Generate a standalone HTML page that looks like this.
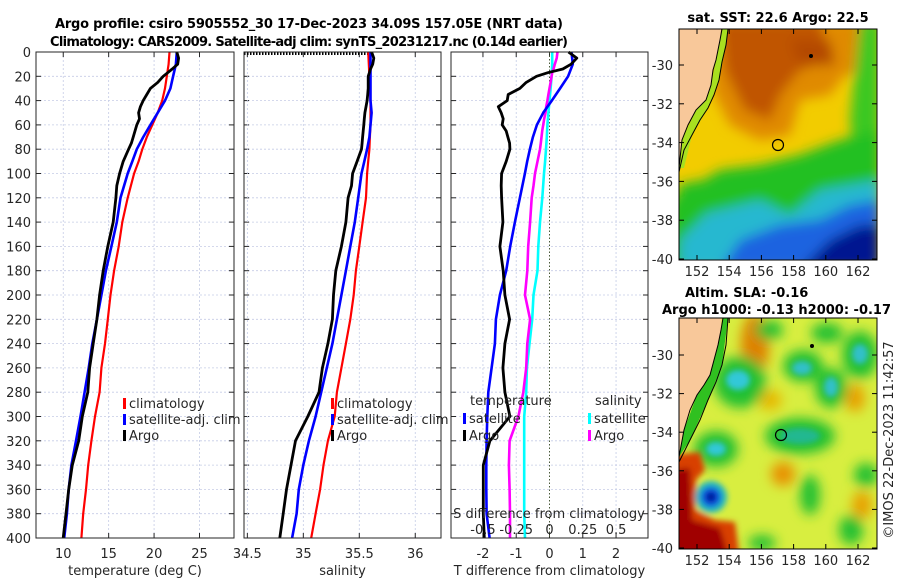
<!DOCTYPE html>
<html><head><meta charset="utf-8">
<style>
html,body{margin:0;padding:0;background:#fff;}
svg{display:block;font-family:"DejaVu Sans","Liberation Sans",sans-serif;}
</style></head>
<body>
<svg id="fig" width="900" height="580" viewBox="0 0 900 580" xmlns="http://www.w3.org/2000/svg">
<defs>
<filter id="bl" x="-20%" y="-20%" width="140%" height="140%"><feGaussianBlur stdDeviation="6"/></filter>
<filter id="bl2" x="-20%" y="-20%" width="140%" height="140%"><feGaussianBlur stdDeviation="3"/></filter>
<clipPath id="m1"><rect x="679" y="29" width="198" height="231"/></clipPath>
<clipPath id="m2"><rect x="679" y="318" width="198" height="231"/></clipPath>
</defs>
<text x="309" y="28" text-anchor="middle" font-size="13" font-weight="bold" fill="#000" textLength="508">Argo profile: csiro 5905552_30 17-Dec-2023 34.09S 157.05E (NRT data)</text>
<text x="309" y="46" text-anchor="middle" font-size="13" font-weight="bold" fill="#000" textLength="518">Climatology: CARS2009. Satellite-adj clim: synTS_20231217.nc (0.14d earlier)</text>
<g id="panels"></g>

<!-- SST map -->
<g>
<text x="778" y="22" text-anchor="middle" font-size="13" font-weight="bold">sat. SST: 22.6 Argo: 22.5</text>
<g clip-path="url(#m1)">
<rect x="679" y="29" width="198" height="231" fill="#f2cc00"/>
<g filter="url(#bl)">
<path d="M715,20 L880,20 L880,70 L845,75 L830,95 L800,100 L790,135 L760,140 L730,125 L712,90Z" fill="#e08a00"/>
<path d="M720,20 L820,20 L830,60 L800,70 L780,95 L770,120 L745,110 L725,70Z" fill="#c05400"/>
<path d="M790,40 L830,40 L835,65 L800,65Z" fill="#b44800"/>
<path d="M860,20 L880,20 L880,200 L855,170 L850,120Z" fill="#3ac820"/>
<path d="M670,200 L720,170 L760,165 L800,155 L840,140 L880,130 L880,270 L670,270Z" fill="#22c020"/>
<path d="M680,240 L700,215 L740,205 L760,200 L790,215 L820,190 L850,185 L880,180 L880,270 L680,270Z" fill="#28b8d0"/>
<path d="M720,270 L740,240 L780,225 L820,220 L850,205 L880,200 L880,270Z" fill="#1a64e0"/>
<path d="M800,270 L830,240 L860,225 L880,225 L880,270Z" fill="#001690"/>
<path d="M678,185 L700,180 L705,215 L680,240Z" fill="#22c020"/>
</g>
<path d="M722,29 L716,60 L711,85 L696,110 L682,140 L679,168 L684,168 L692,135 L708,108 L719,80 L726,45 L728,29Z" fill="#a8e020"/>
<path d="M660,20 L722,20 L720,40 L716,60 L713,70 L711,85 L706,100 L696,110 L688,125 L682,140 L679,168 L660,168Z" fill="#f8c89a"/>
<path d="M722,29 L720,40 L716,60 L713,70 L711,85 L706,100 L696,110 L688,125 L682,140 L679,168" fill="none" stroke="#000" stroke-width="1"/>
<path d="M728,29 L726,45 L722,62 L719,80 L714,95 L708,108 L700,120 L692,135 L684,150 L679,172" fill="none" stroke="#000" stroke-width="1"/>
<circle cx="811" cy="56" r="2" fill="#000"/>
<circle cx="778" cy="145" r="5.5" fill="none" stroke="#000" stroke-width="1.2"/>
</g>
<rect x="679" y="29" width="198" height="231" fill="none" stroke="#000" stroke-width="1"/>
</g>

<!-- SLA map -->
<g>
<text x="685" y="297" font-size="13" font-weight="bold">Altim. SLA: -0.16</text>
<text x="662" y="314" font-size="13" font-weight="bold">Argo h1000: -0.13 h2000: -0.17</text>
<g clip-path="url(#m2)">
<rect x="679" y="318" width="198" height="231" fill="#d8ee40"/>
<g filter="url(#bl)">
<ellipse cx="755" cy="345" rx="14" ry="32" fill="#e08000"/>
<ellipse cx="783" cy="474" rx="12" ry="12" fill="#e89000"/>
<ellipse cx="855" cy="398" rx="10" ry="14" fill="#e8a000"/>
<ellipse cx="862" cy="505" rx="10" ry="14" fill="#e8a000"/>
<ellipse cx="770" cy="400" rx="12" ry="10" fill="#e8b800"/>
<ellipse cx="740" cy="382" rx="26" ry="26" fill="#22c030"/>
<ellipse cx="803" cy="366" rx="20" ry="16" fill="#22c030"/>
<ellipse cx="831" cy="388" rx="16" ry="20" fill="#22c030"/>
<ellipse cx="860" cy="355" rx="18" ry="24" fill="#22c030"/>
<ellipse cx="800" cy="436" rx="35" ry="18" fill="#22c030"/>
<ellipse cx="716" cy="449" rx="22" ry="18" fill="#22c030"/>
<ellipse cx="769" cy="330" rx="14" ry="10" fill="#22c030"/>
<ellipse cx="827" cy="333" rx="16" ry="10" fill="#22c030"/>
<ellipse cx="810" cy="495" rx="10" ry="20" fill="#22c030"/>
<ellipse cx="866" cy="475" rx="12" ry="12" fill="#22c030"/>
<ellipse cx="851" cy="530" rx="12" ry="15" fill="#22c030"/>
<ellipse cx="762" cy="543" rx="14" ry="8" fill="#22c030"/>
</g>
<g filter="url(#bl2)">
<ellipse cx="738" cy="380" rx="12" ry="10" fill="#30c8d8"/>
<ellipse cx="802" cy="368" rx="10" ry="7" fill="#30c0c8"/>
<ellipse cx="831" cy="387" rx="7" ry="10" fill="#30c0c8"/>
<ellipse cx="860" cy="354" rx="8" ry="10" fill="#30c0c8"/>
<ellipse cx="716" cy="449" rx="10" ry="7" fill="#30c8d8"/>
<ellipse cx="800" cy="436" rx="20" ry="8" fill="#20b890"/>
<path d="M670,455 L700,452 L705,470 L696,480 L695,510 L715,520 L735,522 L740,560 L670,560Z" fill="#d84000"/>
<path d="M670,470 L690,468 L692,520 L720,528 L730,560 L670,560Z" fill="#a00000"/>
<circle cx="711" cy="497" r="16" fill="#20b8c0"/>
<circle cx="711" cy="497" r="10" fill="#1050e0"/>
<circle cx="711" cy="497" r="5" fill="#000a90"/>
</g>
<path d="M723,318 L718,345 L710,375 L697,395 L684,430 L679,457 L690,440 L708,400 L722,365 L728,318Z" fill="#30c020"/>
<path d="M660,300 L722,300 L721,330 L718,345 L714,360 L710,375 L704,385 L697,395 L690,410 L684,430 L679,457 L660,460Z" fill="#f8c89a"/>
<path d="M679,457 L684,430 L690,410 L697,395 L704,385 L710,375 L714,360 L718,345 L721,330 L723,318" fill="none" stroke="#000" stroke-width="1"/>
<path d="M679,462 L690,440 L700,420 L708,400 L716,382 L722,365 L726,345 L728,318" fill="none" stroke="#000" stroke-width="1"/>
<circle cx="812" cy="346" r="2" fill="#000"/>
<circle cx="781" cy="435" r="5.5" fill="none" stroke="#000" stroke-width="1.2"/>
</g>
<rect x="679" y="318" width="198" height="231" fill="none" stroke="#000" stroke-width="1"/>
</g>
<g id="mapticks"></g>
<text transform="translate(893,440) rotate(-90)" text-anchor="middle" font-size="13" fill="#262626">©IMOS 22-Dec-2023 11:42:57</text>
</svg>
<script>
const depthsCommon = [0,10,20,30,40,50,60,70,80,90,100,120,140,160,180,200,220,240,260,280,300,320,340,360,380,400];
const depthsArgo = [0,5,10,14,17,20,25,30,35,40,45,50,55,60,65,70,75,80,90,100,110,120,140,160,180,200,220,240,260,280,300,320,340,360,380,400];
const tempClim = [21.7,21.6,21.4,21.2,20.9,20.4,19.8,19.2,18.7,18.3,17.8,17.1,16.5,16.1,15.6,15.2,14.9,14.6,14.2,14.0,13.5,13.1,12.75,12.5,12.2,12.0];
const tempSat = [22.5,22.4,22.1,21.8,21.2,20.4,19.6,18.8,18.1,17.6,17.1,16.3,15.9,15.3,14.7,14.2,13.7,13.2,12.8,12.35,11.9,11.4,10.9,10.6,10.4,10.1];
const tempArgo = [22.5,22.7,22.6,22.0,21.5,21.0,20.4,19.6,19.2,18.8,18.5,18.3,18.4,18.1,17.9,17.7,17.5,17.2,16.6,16.2,15.9,15.8,15.5,14.9,14.4,14.0,13.7,13.3,12.9,12.7,12.1,11.7,11.0,10.6,10.3,10.0];
const salClim = [35.58,35.585,35.59,35.595,35.6,35.6,35.6,35.595,35.59,35.58,35.57,35.56,35.53,35.5,35.47,35.45,35.42,35.38,35.34,35.30,35.28,35.22,35.18,35.15,35.11,35.07];
const salSat = [35.6,35.6,35.6,35.6,35.6,35.61,35.6,35.59,35.57,35.545,35.52,35.49,35.46,35.42,35.38,35.34,35.30,35.26,35.21,35.16,35.11,35.05,35.0,34.96,34.94,34.9];
const salArgo = [35.61,35.63,35.62,35.6,35.59,35.58,35.58,35.58,35.575,35.57,35.56,35.55,35.545,35.54,35.535,35.53,35.525,35.52,35.48,35.44,35.43,35.4,35.38,35.34,35.29,35.27,35.26,35.22,35.17,35.14,35.04,34.93,34.89,34.85,34.82,34.79];
const tDiffSat = [0.66,0.7,0.56,0.32,0.07,-0.19,-0.38,-0.5,-0.59,-0.67,-0.74,-0.89,-1.04,-1.18,-1.3,-1.49,-1.61,-1.64,-1.74,-1.84,-1.87,-1.89,-1.9,-1.9,-1.89,-1.8];
const tDiffArgo = [0.57,0.82,0.65,0.4,-0.05,-0.39,-0.7,-0.89,-1.24,-1.27,-1.54,-1.45,-1.39,-1.42,-1.3,-1.25,-1.2,-1.19,-1.3,-1.44,-1.45,-1.44,-1.4,-1.49,-1.39,-1.34,-1.2,-1.34,-1.4,-1.34,-1.19,-1.79,-1.99,-1.99,-1.99,-1.96];
const sDiffSat = [0.02,0.02,0.016,0.008,0,-0.008,-0.016,-0.02,-0.026,-0.033,-0.041,-0.054,-0.071,-0.084,-0.09,-0.12,-0.13,-0.15,-0.17,-0.175,-0.19,-0.19,-0.19,-0.19,-0.19,-0.184];
const sDiffArgo = [0.06,0.054,0.04,0.03,0.02,0.016,0.008,0,-0.008,-0.016,-0.025,-0.03,-0.04,-0.047,-0.055,-0.06,-0.065,-0.071,-0.09,-0.109,-0.12,-0.134,-0.146,-0.16,-0.167,-0.184,-0.146,-0.167,-0.175,-0.197,-0.234,-0.3,-0.305,-0.3,-0.297,-0.297];
const depthTicks = [0,20,40,60,80,100,120,140,160,180,200,220,240,260,280,300,320,340,360,380,400];
const tempTicks = [10,15,20,25];
const salTicks = [34.5,35,35.5,36];
const tDiffTicks = [-2,-1,0,1,2];
const sDiffTicks = [-0.5,-0.25,0,0.25,0.5];
const sDiffTickLabels = ['-0.5','-0.25','0','0.25','0.5'];
const latTicks = [-30,-32,-34,-36,-38,-40];
const lonTicks = [152,154,156,158,160,162];

const NS='http://www.w3.org/2000/svg';
const root=document.getElementById('panels');
function mk(tag,attrs,parent){const e=document.createElementNS(NS,tag);for(const k in attrs)e.setAttribute(k,attrs[k]);(parent||root).appendChild(e);return e;}
const Y0=52,Y1=538;
function yScale(d){return Y0+(d/400)*(Y1-Y0);}
function linX(d0,d1,p0,p1){return v=>p0+(v-d0)/(d1-d0)*(p1-p0);}

const panels=[
 {name:'temperature-panel',x0:36,x1:234,sx:linX(7,28.8,36,234),ticks:tempTicks,labels:tempTicks.map(String),xlabel:'temperature (deg C)'},
 {name:'salinity-panel',x0:244,x1:441,sx:linX(34.47,36.23,244,441),ticks:salTicks,labels:salTicks.map(String),xlabel:'salinity'},
 {name:'difference-panel',x0:451,x1:648,sx:linX(-2.96,2.96,451,648),ticks:tDiffTicks,labels:tDiffTicks.map(String),xlabel:'T difference from climatology'}
];
panels.forEach((p,pi)=>{
  const g=mk('g',{});
  
  
  depthTicks.forEach(d=>{
    const y=yScale(d);
    const l=mk('line',{x1:p.x0,x2:p.x1,y1:y,y2:y,stroke:'#c5cce6','stroke-width':0.8,'stroke-dasharray':'2,2'},g);
    
    mk('line',{x1:p.x0,x2:p.x0+5,y1:y,y2:y,stroke:'#262626','stroke-width':1},g);
    mk('line',{x1:p.x1-5,x2:p.x1,y1:y,y2:y,stroke:'#262626','stroke-width':1},g);
    if(pi===0){const t=mk('text',{x:31,y:y+5,'text-anchor':'end','font-size':13,fill:'#262626'},g);t.textContent=d;
      }
  });
  p.ticks.forEach((v,i)=>{
    const x=p.sx(v);
    if(!(pi===2&&v===0)){const l=mk('line',{x1:x,x2:x,y1:Y0,y2:Y1,stroke:'#c5cce6','stroke-width':0.8,'stroke-dasharray':'2,2'},g);
      }
    mk('line',{x1:x,x2:x,y1:Y1-5,y2:Y1,stroke:'#262626','stroke-width':1},g);
    mk('line',{x1:x,x2:x,y1:Y0,y2:Y0+5,stroke:'#262626','stroke-width':1},g);
    const t=mk('text',{x:x,y:558,'text-anchor':'middle','font-size':13,fill:'#262626'},g);t.textContent=p.labels[i];
    
  });
  const xl=mk('text',{x:(p.x0+p.x1)/2,y:575,'text-anchor':'middle','font-size':13,fill:'#262626'},g);xl.textContent=p.xlabel;
  
  p.g=g;
});

function line(g,sx,vals,deps,color,w,name){
  const pts=vals.map((v,i)=>sx(v).toFixed(1)+','+yScale(deps[i]).toFixed(1)).join(' ');
  const e=mk('polyline',{points:pts,fill:'none',stroke:color,'stroke-width':w,'stroke-linejoin':'round'},g);
  
  
}
const P=panels;
line(P[0].g,P[0].sx,tempClim,depthsCommon,'#ff0000',2.2,'temp-climatology-line');
line(P[0].g,P[0].sx,tempSat,depthsCommon,'#0000ff',2.6,'temp-satellite-line');
line(P[0].g,P[0].sx,tempArgo,depthsArgo,'#000000',2.8,'temp-argo-line');
const dl=mk('line',{x1:244,x2:368,y1:Y0+1.5,y2:Y0+1.5,stroke:'#000','stroke-width':3,'stroke-dasharray':'1.5,1.5'},P[1].g);

line(P[1].g,P[1].sx,salClim,depthsCommon,'#ff0000',2.2,'sal-climatology-line');
line(P[1].g,P[1].sx,salSat,depthsCommon,'#0000ff',2.6,'sal-satellite-line');
line(P[1].g,P[1].sx,salArgo,depthsArgo,'#000000',2.8,'sal-argo-line');
const sdx=linX(-0.74,0.74,451,648);
const zl=mk('line',{x1:P[2].sx(0),x2:P[2].sx(0),y1:Y0,y2:Y1,stroke:'#4a5a3a','stroke-width':1,'stroke-dasharray':'1.5,2'},P[2].g);

line(P[2].g,sdx,sDiffSat,depthsCommon,'#00ffff',2.6,'sdiff-satellite-line');
line(P[2].g,sdx,sDiffArgo,depthsArgo,'#ff00ff',2.6,'sdiff-argo-line');
line(P[2].g,P[2].sx,tDiffSat,depthsCommon,'#0000ff',2.6,'tdiff-satellite-line');
line(P[2].g,P[2].sx,tDiffArgo,depthsArgo,'#000000',2.8,'tdiff-argo-line');
const st=mk('text',{x:549,y:518,'text-anchor':'middle','font-size':13,fill:'#262626'},P[2].g);st.textContent='S difference from climatology';

sDiffTicks.forEach((v,i)=>{const t=mk('text',{x:sdx(v),y:534,'text-anchor':'middle','font-size':13,fill:'#262626'},P[2].g);t.textContent=sDiffTickLabels[i];
  });
panels.forEach(p=>{const r=mk('rect',{x:p.x0,y:Y0,width:p.x1-p.x0,height:Y1-Y0,fill:'none',stroke:'#262626','stroke-width':1},p.g);
  });
function legend(g,x,y,color,label,name){
  mk('rect',{x:x,y:y-9,width:3,height:11,fill:color},g);
  const t=mk('text',{x:x+6,y:y+1,'font-size':13,fill:'#262626'},g);t.textContent=label;
  
}
[[P[0].g,123],[P[1].g,331]].forEach(([g,x],k)=>{
  legend(g,x,407,'#ff0000','climatology','legend-climatology');
  legend(g,x,423,'#0000ff','satellite-adj. clim','legend-satellite-adj');
  legend(g,x,439,'#000000','Argo','legend-argo');
});
const t1=mk('text',{x:470,y:405,'font-size':13,fill:'#262626'},P[2].g);t1.textContent='temperature';

const t2=mk('text',{x:595,y:405,'font-size':13,fill:'#262626'},P[2].g);t2.textContent='salinity';

legend(P[2].g,463,422,'#0000ff','satellite','legend-t-satellite');
legend(P[2].g,463,439,'#000000','Argo','legend-t-argo');
legend(P[2].g,588,422,'#00ffff','satellite','legend-s-satellite');
legend(P[2].g,588,439,'#ff00ff','Argo','legend-s-argo');

const mt=document.getElementById('mapticks');
[[29,65,19.4,276],[318,355,19.3,565]].forEach(([top,y30,py,ly])=>{
  latTicks.forEach(la=>{const y=y30+(-30-la)*py;
    mk('line',{x1:679,x2:684,y1:y,y2:y,stroke:'#000'},mt);mk('line',{x1:872,x2:877,y1:y,y2:y,stroke:'#000'},mt);
    const t=mk('text',{x:673,y:y+5,'text-anchor':'end','font-size':13,fill:'#262626'},mt);t.textContent=la;
    });
  lonTicks.forEach(lo=>{const x=697+(lo-152)*16.1;const b=top+231;
    mk('line',{x1:x,x2:x,y1:b-5,y2:b,stroke:'#000'},mt);mk('line',{x1:x,x2:x,y1:top,y2:top+5,stroke:'#000'},mt);
    const t=mk('text',{x:x,y:ly,'text-anchor':'middle','font-size':13,fill:'#262626'},mt);t.textContent=lo;
    });
});
</script>
</body></html>
